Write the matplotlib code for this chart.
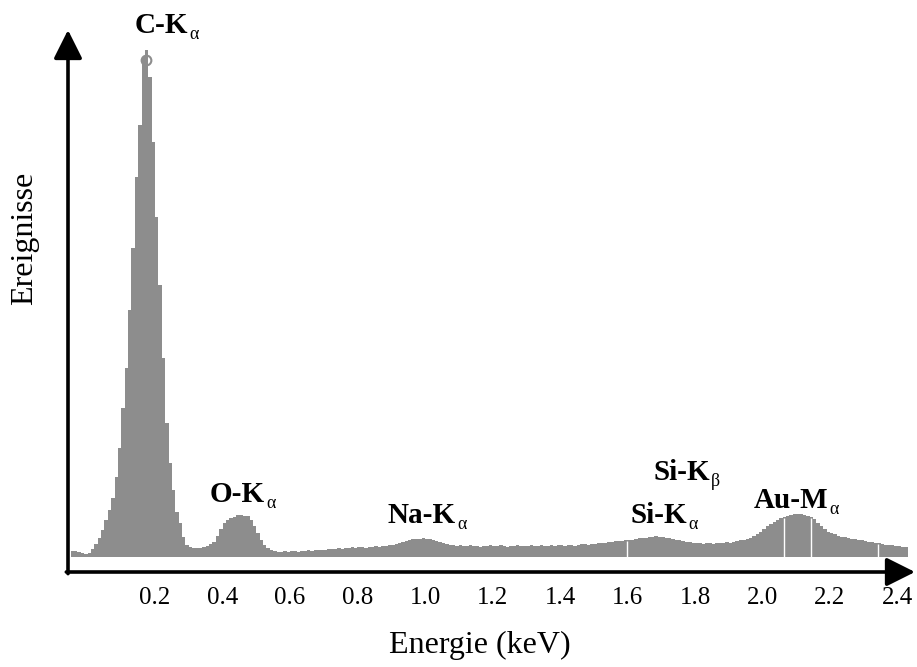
import numpy as np
import matplotlib
matplotlib.use('Agg')
import matplotlib.pyplot as plt

plt.rcParams['font.family'] = ['Liberation Serif', 'DejaVu Serif']

# spectrum: counts per 10 eV channel, first channel starts at -0.05 keV
e_start = -0.05
bin_width = 0.01
counts = [
    6, 6, 5, 4, 3,
    4, 8, 13, 19, 27, 37, 47, 59, 80, 109,
    149, 189, 247, 309, 380, 432, 500, 507, 480, 415,
    340, 272, 199, 134, 94, 67, 45, 34, 20, 12,
    10, 9, 9, 9, 10, 11, 13, 15, 21, 28,
    34, 37, 39, 40, 42, 42, 41, 41, 37, 31,
    24, 17, 12, 9, 7, 6, 5, 5, 6, 5,
    6, 6, 5, 6, 6, 7, 6, 7, 7, 7,
    7, 8, 8, 8, 9, 8, 9, 9, 10, 9,
    10, 10, 9, 10, 10, 11, 10, 11, 11, 12,
    12, 13, 14, 15, 16, 17, 18, 18, 18, 19,
    18, 18, 17, 16, 15, 14, 13, 12, 12, 11,
    12, 11, 11, 12, 11, 11, 10, 11, 11, 12,
    11, 11, 12, 11, 10, 11, 11, 12, 11, 11,
    11, 12, 11, 11, 12, 11, 11, 12, 11, 12,
    12, 11, 12, 12, 11, 12, 13, 13, 12, 13,
    13, 14, 14, 14, 15, 15, 16, 16, 16, 17,
    17, 17, 18, 19, 19, 19, 20, 20, 21, 20,
    20, 19, 19, 18, 17, 17, 16, 15, 15, 14,
    14, 14, 13, 14, 14, 13, 14, 14, 14, 15,
    14, 15, 16, 17, 17, 18, 19, 21, 23, 25,
    28, 31, 33, 35, 37, 39, 40, 41, 42, 43,
    43, 43, 42, 41, 40, 38, 34, 31, 28, 25,
    24, 23, 21, 20, 20, 19, 18, 18, 17, 17,
    16, 15, 15, 14, 14, 13, 12, 12, 12, 11,
    11, 10, 10,
]
# thin white scan artefacts in the fill (keV)
gaps = [1.60, 2.065, 2.145, 2.342]

# peak labels: (energy, counts, main text, subscript)
peaks = [
    (0.298, 524, 'C-K', '\u03b1'),
    (0.526, 55, 'O-K', '\u03b1'),
    (1.092, 34, 'Na-K', '\u03b1'),
    (1.776, 34, 'Si-K', '\u03b1'),
    (1.844, 77, 'Si-K', '\u03b2'),
    (2.194, 49, 'Au-M', '\u03b1'),
]
xticks = [0.2, 0.4, 0.6, 0.8, 1.0, 1.2, 1.4, 1.6, 1.8, 2.0, 2.2, 2.4]

counts = np.array(counts, dtype=float)
edges = e_start + bin_width * np.arange(len(counts) + 1)

W, H = 917, 667
fig = plt.figure(figsize=(W / 100, H / 100), dpi=100)
ax = fig.add_axes([68 / W, 1 - 572 / H, (915 - 68) / W, (572 - 30) / H])
ax.set_xlim(-0.0578, 2.4519)
ax.set_ylim(-15, 527)

gray = '#8d8d8d'
ax.stairs(counts, edges, fill=True, color=gray, baseline=0)
# little circle on top of the carbon peak
ax.plot([0.172], [497], 'o', ms=7, mfc='none', mec=gray, mew=1.5)

idx = ((np.array(gaps) - e_start) / bin_width).astype(int)
ax.vlines(gaps, 0, counts[idx] - 1, color='white', lw=1)

# axes as arrows
for s in ax.spines.values():
    s.set_visible(False)
arrow = dict(arrowstyle='-|>,head_length=0.7,head_width=0.35', lw=2.6,
             color='black', mutation_scale=25, shrinkA=0, shrinkB=0)
ax.annotate('', xy=(1, 0), xytext=(-0.002, 0), xycoords='axes fraction',
            arrowprops=arrow, annotation_clip=False)
ax.annotate('', xy=(0, 1), xytext=(0, -0.003), xycoords='axes fraction',
            arrowprops=arrow, annotation_clip=False)

ax.set_yticks([])
ax.set_xticks(xticks)
ax.set_xticklabels(['%.1f' % t for t in xticks])
ax.tick_params(axis='x', length=0, pad=11, labelsize=18)

for x, y, main, sub in peaks:
    ax.text(x, y, main, ha='right', va='baseline', fontsize=21,
            fontweight='bold')
    ax.annotate(sub, (x, y), xytext=(1, -4), textcoords='offset points',
                ha='left', va='baseline', fontsize=13)

fig.text(480 / W, 1 - 645 / H, 'Energie (keV)', ha='center', va='center',
         fontsize=23)
fig.text(25 / W, 1 - 238 / H, 'Ereignisse', ha='center', va='center',
         rotation=90, fontsize=23)

fig.savefig('out.png', dpi=100)
